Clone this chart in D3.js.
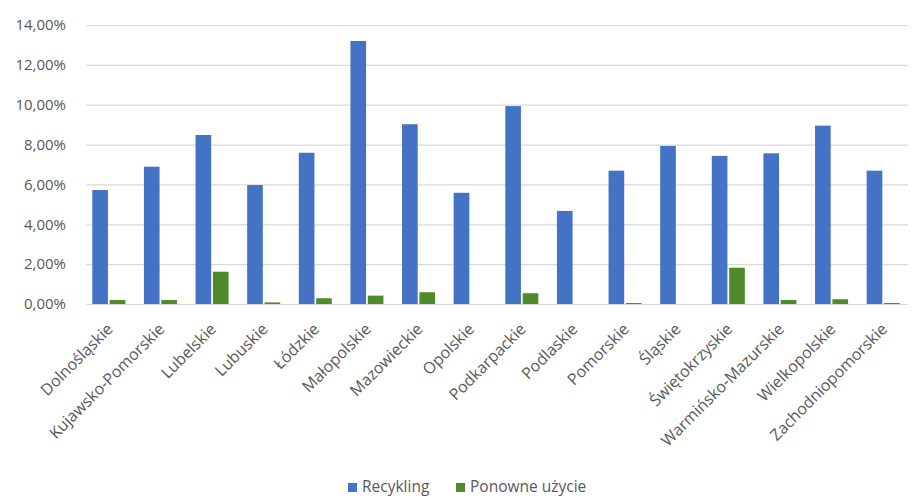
<!DOCTYPE html>
<html>
<head>
<meta charset="utf-8">
<script src="https://cdn.jsdelivr.net/npm/d3@7"></script>
<style>
  body { margin: 0; background: #fff; }
  text { font-family: "Open Sans", "Noto Sans", sans-serif; fill: #595959; }
</style>
</head>
<body>
<div id="chart"></div>
<script>
var regions = ["Dolnośląskie", "Kujawsko-Pomorskie", "Lubelskie", "Lubuskie", "Łódzkie",
  "Małopolskie", "Mazowieckie", "Opolskie", "Podkarpackie", "Podlaskie", "Pomorskie",
  "Śląskie", "Świętokrzyskie", "Warmińsko-Mazurskie", "Wielkopolskie", "Zachodniopomorskie"];
var recykling = [5.72, 6.89, 8.48, 5.97, 7.59, 13.2, 9.02, 5.58, 9.93, 4.67, 6.69, 7.93, 7.43, 7.56, 8.95, 6.69];
var ponowne = [0.2, 0.2, 1.62, 0.08, 0.29, 0.42, 0.59, 0, 0.54, 0, 0.05, 0, 1.82, 0.2, 0.24, 0.05];
var seriesNames = ["Recykling", "Ponowne użycie"];
var seriesColors = ["#4472c4", "#4f8a2b"];
var yTicks = [0, 2, 4, 6, 8, 10, 12, 14];

var width = 914;
var height = 502;
var plotLeft = 83, plotRight = 909, plotTop = 25, plotBottom = 304;

var svg = d3.select("#chart")
  .append("svg")
  .attr("width", width)
  .attr("height", height);

var x = d3.scaleBand()
  .domain(regions)
  .range([plotLeft, plotRight])
  .paddingInner(0.36)
  .paddingOuter(0.18);

var sub = d3.scaleBand()
  .domain(seriesNames)
  .range([0, x.bandwidth()])
  .paddingInner(0.1);

var y = d3.scaleLinear()
  .domain([0, 14])
  .range([plotBottom, plotTop]);

// gridlines + y labels
var leftAxis = d3.axisLeft(y)
  .tickValues(yTicks)
  .tickSize(-(plotRight - plotLeft - 4))
  .tickFormat(function(d) { return d.toFixed(2).replace(".", ",") + "%"; });

var gy = svg.append("g")
  .attr("transform", "translate(" + (plotLeft + 3) + ",0)")
  .call(leftAxis);
gy.select(".domain").remove();
gy.selectAll("line").attr("stroke", "#d9d9d9").attr("stroke-width", 1.2);
gy.selectAll("text")
  .attr("x", -20)
  .style("font-size", "15px")
  .style("fill", "#595959");

var rows = regions.map(function(r, i) {
  return { region: r, values: [recykling[i], ponowne[i]] };
});

var groups = svg.selectAll("g.grp")
  .data(rows)
  .enter()
  .append("g")
  .attr("class", "grp")
  .attr("transform", function(d) { return "translate(" + x(d.region) + ",0)"; });

groups.selectAll("rect")
  .data(function(d) { return d.values.map(function(v, k) { return { k: k, v: v }; }); })
  .enter()
  .append("rect")
  .attr("x", function(d) { return sub(seriesNames[d.k]); })
  .attr("width", sub.bandwidth())
  .attr("y", function(d) { return y(d.v); })
  .attr("height", function(d) { return y(0) - y(d.v); })
  .attr("fill", function(d) { return seriesColors[d.k]; });

// x labels rotated
var bottomAxis = d3.axisBottom(x).tickSize(0);
var gx = svg.append("g")
  .attr("transform", "translate(0," + plotBottom + ")")
  .call(bottomAxis);
gx.select(".domain").remove();
gx.selectAll("text")
  .attr("text-anchor", "end")
  .attr("dy", "0.35em")
  .attr("transform", "translate(-1,20) rotate(-45)")
  .style("font-size", "16px")
  .style("fill", "#595959");

// legend
var legend = svg.append("g").attr("transform", "translate(348,492)");
var legX = [0, 108];
seriesNames.forEach(function(name, i) {
  legend.append("rect")
    .attr("x", legX[i])
    .attr("y", -9)
    .attr("width", 9)
    .attr("height", 9)
    .attr("fill", seriesColors[i]);
  legend.append("text")
    .attr("x", legX[i] + 14)
    .attr("y", 0)
    .style("font-size", "15.5px")
    .text(name);
});
</script>
</body>
</html>
